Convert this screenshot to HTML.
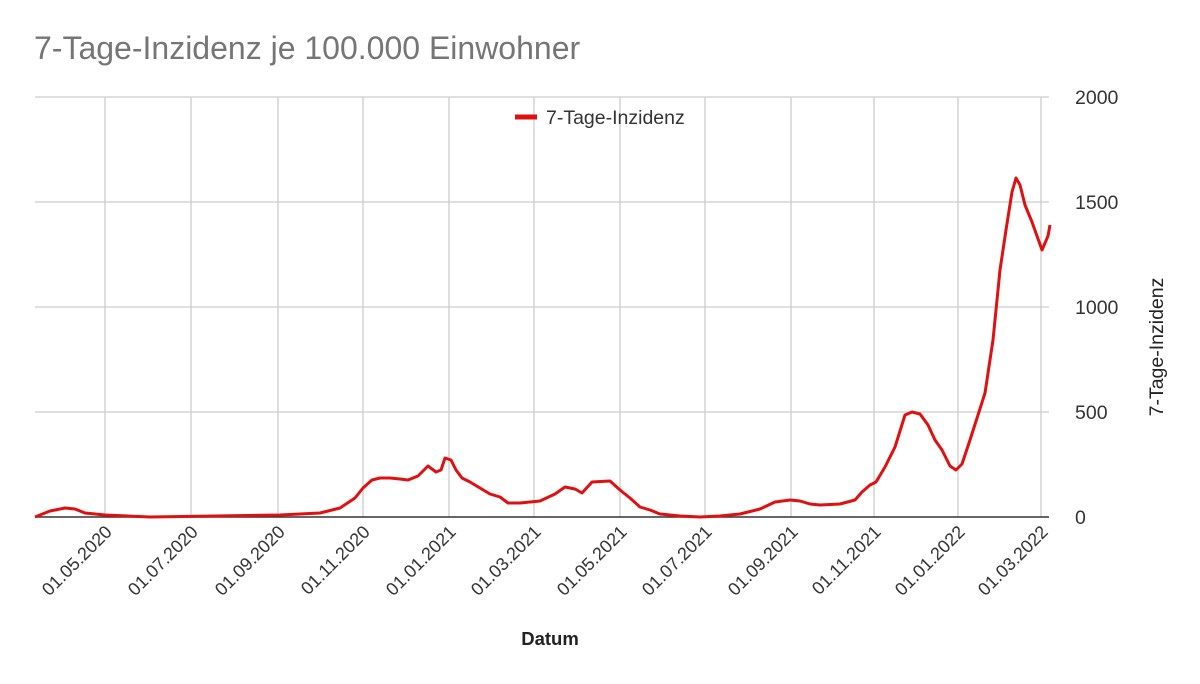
<!DOCTYPE html>
<html><head><meta charset="utf-8"><style>
body{margin:0;background:#fff;}
svg{display:block;font-family:"Liberation Sans",Arial,sans-serif;}
</style></head><body>
<svg width="1200" height="684" viewBox="0 0 1200 684">
<text x="34" y="59" font-size="32" fill="#757575">7-Tage-Inzidenz je 100.000 Einwohner</text>
<g stroke="#cccccc" stroke-width="1.3">
<line x1="35" y1="97" x2="1049" y2="97"/>
<line x1="35" y1="202" x2="1049" y2="202"/>
<line x1="35" y1="307" x2="1049" y2="307"/>
<line x1="35" y1="412" x2="1049" y2="412"/>
<line x1="105" y1="97" x2="105" y2="517"/>
<line x1="191" y1="97" x2="191" y2="517"/>
<line x1="278" y1="97" x2="278" y2="517"/>
<line x1="363" y1="97" x2="363" y2="517"/>
<line x1="449" y1="97" x2="449" y2="517"/>
<line x1="534" y1="97" x2="534" y2="517"/>
<line x1="620" y1="97" x2="620" y2="517"/>
<line x1="705" y1="97" x2="705" y2="517"/>
<line x1="791" y1="97" x2="791" y2="517"/>
<line x1="874" y1="97" x2="874" y2="517"/>
<line x1="958" y1="97" x2="958" y2="517"/>
<line x1="1041" y1="97" x2="1041" y2="517"/>
</g>
<line x1="35" y1="517" x2="1049" y2="517" stroke="#333" stroke-width="1.5"/>
<g font-size="19.5" fill="#333">
<text x="1075" y="104">2000</text>
<text x="1075" y="209">1500</text>
<text x="1075" y="314">1000</text>
<text x="1075" y="419">500</text>
<text x="1075" y="524">0</text>
</g>
<text transform="translate(1163,347) rotate(-90)" text-anchor="middle" font-size="19.5" fill="#222">7-Tage-Inzidenz</text>
<text x="550" y="645" text-anchor="middle" font-size="18.5" font-weight="bold" fill="#222">Datum</text>
<line x1="515" y1="117" x2="537" y2="117" stroke="#e01010" stroke-width="5"/>
<text x="546" y="124" font-size="19.5" fill="#333">7-Tage-Inzidenz</text>
<g font-size="18" fill="#333" text-anchor="end">
<text transform="translate(113,533) rotate(-45)">01.05.2020</text>
<text transform="translate(199,533) rotate(-45)">01.07.2020</text>
<text transform="translate(286,533) rotate(-45)">01.09.2020</text>
<text transform="translate(371,533) rotate(-45)">01.11.2020</text>
<text transform="translate(457,533) rotate(-45)">01.01.2021</text>
<text transform="translate(542,533) rotate(-45)">01.03.2021</text>
<text transform="translate(628,533) rotate(-45)">01.05.2021</text>
<text transform="translate(713,533) rotate(-45)">01.07.2021</text>
<text transform="translate(799,533) rotate(-45)">01.09.2021</text>
<text transform="translate(882,533) rotate(-45)">01.11.2021</text>
<text transform="translate(966,533) rotate(-45)">01.01.2022</text>
<text transform="translate(1049,533) rotate(-45)">01.03.2022</text>
</g>
<polyline fill="none" stroke="#e01010" stroke-width="3" stroke-linejoin="round" points="35,517 50,511 65,508 75,509 85,513 95,514 105,515 150,517 280,515 320,513 340,508 355,498 363,488 372,480 380,478 390,478 400,479 408,480 418,476 428,466 436,472 441,470 445,458 451,460 456,470 462,478 470,482 480,488 490,494 500,497 508,503 520,503 540,501 555,494 565,487 575,489 582,493 592,482 610,481 620,490 630,498 640,507 650,510 660,514 680,516 700,517 720,516 740,514 760,509 775,502 790,500 800,501 810,504 820,505 840,504 855,500 862,492 870,485 876,482 885,467 895,447 905,415 912,412 920,414 928,425 935,440 942,450 950,466 956,470 962,464 970,440 978,415 985,393 993,340 1000,270 1006,230 1012,192 1016,178 1020,185 1025,205 1032,222 1042,250 1048,236 1050,225"/>
</svg>
</body></html>
